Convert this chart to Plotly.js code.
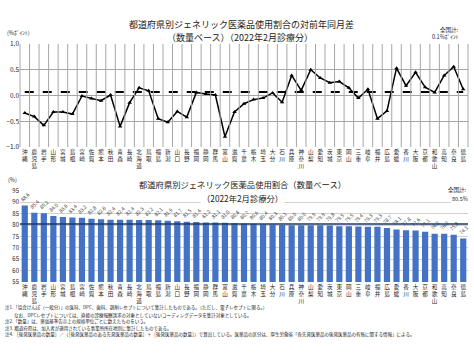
<!DOCTYPE html>
<html><head><meta charset="utf-8">
<script src="https://cdn.plot.ly/plotly-3.0.1.min.js"></script>
<style>html,body{margin:0;padding:0;background:#fff}#chart{width:474px;height:355px}</style>
</head><body><div id="chart"></div>
<script>
// ---- data ----
const diffPrefs = ["沖縄","鹿児島","岩手","山形","宮城","島根","宮崎","佐賀","熊本","秋田","青森","長崎","北海道","鳥取","福島","新潟","山口","長野","福岡","静岡","群馬","富山","滋賀","千葉","栃木","埼玉","大分","石川","兵庫","神奈川","山梨","愛知","茨城","東京","岡山","三重","岐阜","福井","広島","愛媛","香川","大阪","京都","和歌山","高知","奈良","徳島"];
const diffValues = [-0.34,-0.41,-0.58,-0.32,-0.32,-0.36,-0.01,-0.06,-0.10,0.01,-0.60,-0.14,0.15,0.09,-0.45,-0.52,-0.31,-0.42,0.06,0.03,0.01,-0.80,-0.32,-0.16,-0.08,-0.05,0.05,-0.13,0.39,0.10,0.50,0.34,0.25,0.27,0.15,-0.05,0.12,-0.45,-0.30,0.53,0.19,0.45,0.16,0.06,0.39,0.56,0.12];
const nationalDiff = 0.07;

const ratePrefs = ["沖縄","鹿児島","岩手","山形","宮城","島根","宮崎","佐賀","熊本","秋田","青森","長崎","北海道","鳥取","福島","新潟","山口","長野","福岡","静岡","群馬","富山","滋賀","千葉","栃木","埼玉","大分","石川","兵庫","神奈川","山梨","愛知","茨城","東京","岡山","三重","岐阜","福井","広島","愛媛","香川","大阪","京都","和歌山","高知","奈良","徳島"];
const rateValues = [88.6,85.4,85.2,84.0,83.6,83.4,83.2,82.8,82.6,82.4,82.4,82.4,82.3,82.2,82.1,81.9,81.7,81.5,81.4,81.2,81.1,81.0,80.8,80.7,80.6,80.4,80.3,80.1,80.0,80.0,79.9,79.9,79.8,79.5,79.5,79.4,79.3,79.3,78.7,78.1,77.8,77.6,77.1,76.2,76.2,75.8,74.1];
const nationalRate = 80.5;

const diffTicks = [-1.0,-0.5,0.0,0.5,1.0];
const rateTicks = [55,60,65,70,75,80,85,90,95];

const notes = [
  "注1.「協会けんぽ（一般分）」の医科、DPC、歯科、調剤レセプトについて集計したものである。（ただし、電子レセプトに限る。）",
  "　　なお、DPCレセプトについては、直接の診療報酬請求の対象としていないコーディングデータを集計対象としている。",
  "注2.「数量」は、薬価基準告示上の規格単位ごとに数えたものをいう。",
  "注3. 都道府県は、加入者が適用されている事業所所在地別に集計したものである。",
  "注4. ［後発医薬品の数量］／（［後発医薬品のある先発医薬品の数量］＋［後発医薬品の数量］）で算出している。医薬品の区分は、厚生労働省「各先発医薬品の後発医薬品の有無に関する情報」による。"
];

// ---- helpers ----
const F = '"Noto Sans CJK JP", "Noto Sans", sans-serif';
const W = 474, H = 355;
const vert = s => s.split('').join('<br>');
function ann(text, px, py, size, xanchor, extra) {
  return Object.assign({
    text: text, xref: 'paper', yref: 'paper', x: px / W, y: 1 - py / H,
    xanchor: xanchor || 'center', yanchor: 'middle', showarrow: false,
    font: {family: F, size: size, color: '#222'}
  }, extra || {});
}

const diffX = diffPrefs.map(vert);
const rateX = ratePrefs.map(vert);
const n = diffPrefs.length;

const traces = [
  {
    type: 'scatter', mode: 'lines', x: diffX, y: diffPrefs.map(() => nationalDiff),
    line: {color: '#000', width: 2, dash: 'dash'}, hoverinfo: 'skip', xaxis: 'x', yaxis: 'y'
  },
  {
    type: 'scatter', mode: 'lines+markers', x: diffX, y: diffValues,
    line: {color: '#000', width: 1.5}, marker: {symbol: 'triangle-up', size: 4, color: '#000'},
    xaxis: 'x', yaxis: 'y'
  },
  {
    type: 'bar', x: rateX, y: rateValues, xaxis: 'x2', yaxis: 'y2',
    marker: {color: '#4472C4'}, texttemplate: '%{y:.1f}', textposition: 'outside',
    textangle: -45, constraintext: 'none', cliponaxis: false,
    textfont: {family: F, size: 5, color: '#333'}
  }
];

// vertical grid lines at category boundaries of the upper chart
const xdom = [20 / W, 468 / W];
const ydomTop = [(H - 147) / H, (H - 44) / H];
const vGrid = [];
for (let i = 0; i <= n; i++) {
  const fx = xdom[0] + (xdom[1] - xdom[0]) * i / n;
  vGrid.push({type: 'line', layer: 'above', xref: 'paper', yref: 'paper',
    x0: fx, x1: fx, y0: ydomTop[0], y1: ydomTop[1], line: {color: '#a6a6a6', width: 1}});
}

const layout = {
  width: W, height: H, margin: {l: 0, r: 0, t: 0, b: 0},
  paper_bgcolor: '#fff', plot_bgcolor: 'rgba(0,0,0,0)', showlegend: false, bargap: 0.35,
  font: {family: F, color: '#222'},
  xaxis: {
    domain: xdom, anchor: 'y', type: 'category', range: [-0.5, n - 0.5],
    showgrid: false, tickangle: 0, ticks: '', nticks: 60,
    tickfont: {family: F, size: 5.6, color: '#222'}, showline: false, zeroline: false
  },
  yaxis: {
    domain: ydomTop, anchor: 'x', range: [-1, 1],
    tickvals: diffTicks, tickformat: '.1f', showgrid: true, gridcolor: '#a6a6a6',
    zeroline: false, ticks: '', tickfont: {family: F, size: 6.5, color: '#222'}, showline: false
  },
  xaxis2: {
    domain: xdom, anchor: 'y2', type: 'category', range: [-0.5, n - 0.5],
    showgrid: false, tickangle: 0, ticks: '', nticks: 60,
    tickfont: {family: F, size: 5.6, color: '#222'}, showline: false, zeroline: false
  },
  yaxis2: {
    domain: [(H - 282) / H, (H - 191) / H], anchor: 'x2', range: [55, 95],
    tickvals: rateTicks, showgrid: true, gridcolor: '#d0d0d0', zeroline: false, ticks: '',
    tickfont: {family: F, size: 6, color: '#222'}, showline: false
  },
  shapes: vGrid.concat([
    {type: 'line', xref: 'x2 domain', yref: 'y2', x0: 0, x1: 1, y0: nationalRate, y1: nationalRate,
     line: {color: '#1f3864', width: 1.5}}
  ]),
  annotations: [
    ann('都道府県別ジェネリック医薬品使用割合の対前年同月差', 241, 24, 9),
    ann('（数量ベース）（2022年2月診療分）', 240, 37.5, 9),
    ann('(%ﾎﾟｲﾝﾄ)', 5, 33, 5.5, 'left'),
    ann('全国計:', 449, 29.5, 5.5),
    ann('0.1%ﾎﾟｲﾝﾄ', 445, 37.5, 5.5),
    ann('都道府県別ジェネリック医薬品使用割合（数量ベース）', 242, 184, 8.3, 'center', {bgcolor: '#fff'}),
    ann('（2022年2月診療分）', 242, 197.5, 8.3, 'center', {bgcolor: '#fff'}),
    ann('(%)', 6, 180, 5.5, 'left'),
    ann('全国計:', 457, 190, 5.5, 'center', {bgcolor: '#fff'}),
    ann('80.5%', 460, 199, 5.5, 'center', {bgcolor: '#fff'}),
    ann(notes[0], 3, 307, 4.5, 'left'),
    ann(notes[1], 3, 315, 4.5, 'left'),
    ann(notes[2], 3, 321.5, 4.5, 'left'),
    ann(notes[3], 3, 328, 4.5, 'left'),
    ann(notes[4], 3, 334.5, 4.5, 'left')
  ]
};

Plotly.newPlot('chart', traces, layout, {staticPlot: true, displayModeBar: false});
</script>
</body></html>
